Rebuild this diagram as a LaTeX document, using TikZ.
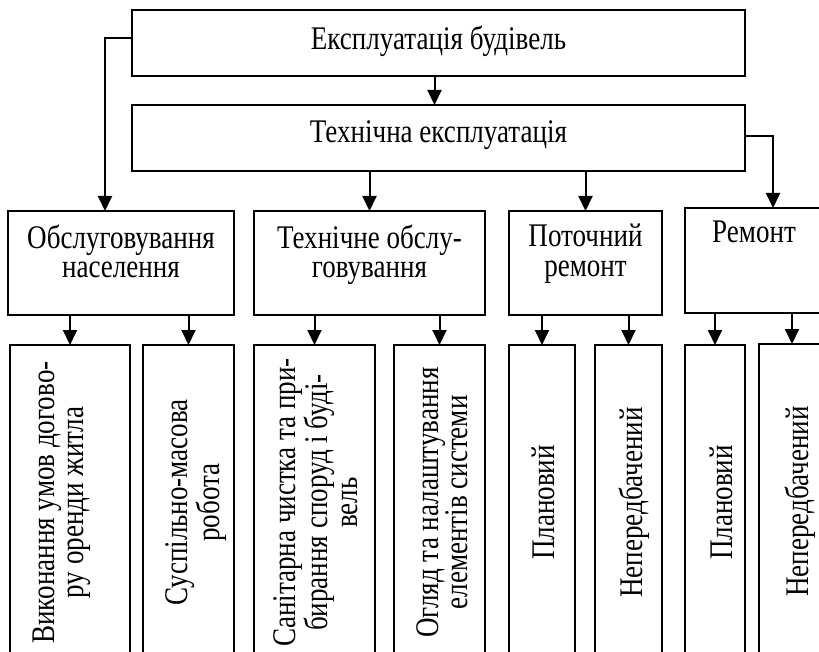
\documentclass[tikz,border=0pt]{standalone}
\usepackage{fontspec}
\setmainfont[FakeStretch=0.82]{Liberation Serif}
\usepackage{tikz}
\usetikzlibrary{calc,arrows.meta}
\tikzset{
  box/.style={draw=black, line width=1pt, inner sep=0pt, outer sep=0pt, anchor=north west},
  sz/.style 2 args={minimum width=#1*0.5pt, minimum height=#2*0.5pt},
  conn/.style={draw=black, line width=1pt, -{Triangle[length=7.5pt,width=7pt]}},
  txt/.style={inner sep=0pt, anchor=north, align=center, font=\fontsize{16.5}{14.6}\selectfont},
  vtxt/.style={txt, rotate=90},
}
\begin{document}
\begin{tikzpicture}[x=0.5pt, y=-0.5pt]
  \useasboundingbox (0,0) rectangle (819,652);
  % top levels
  \node[box, sz={613}{66}] (expl) at (132,10) {};
  \node[box, sz={613}{66}] (tech) at (132,105) {};
  \node[txt] (expl-t) at ($(expl.north)+(0,15)$) {Експлуатація будівель};
  \node[txt] (tech-t) at ($(tech.north)+(0,15)$) {Технічна експлуатація};
  % second level
  \node[box, sz={226}{104}] (obsl) at (8,211) {};
  \node[box, sz={231}{104}] (tobsl) at (254,211) {};
  \node[box, sz={153}{104}] (potoch) at (509,211) {};
  \node[box, sz={138}{105}] (remont) at (685,208) {};
  \node[txt] (obsl-t) at ($(obsl.north)+(0,13)$) {Обслуговування\\населення};
  \node[txt] (tobsl-t) at ($(tobsl.north)+(0,13)$) {Технічне обслу-\\говування};
  \node[txt] (potoch-t) at ($(potoch.north)+(0,13)$) {Поточний\\ремонт};
  \node[txt] (remont-t) at ($(remont.north)+(0,12)$) {Ремонт};
  % third level
  \node[box, sz={120}{315}] (v1) at (10,345) {};
  \node[box, sz={91}{315}] (v2) at (143,345) {};
  \node[box, sz={121}{315}] (v3) at (254,345) {};
  \node[box, sz={91}{315}] (v4) at (394,345) {};
  \node[box, sz={66}{315}] (v5) at (509,345) {};
  \node[box, sz={67}{315}] (v6) at (595,345) {};
  \node[box, sz={60}{315}] (v7) at (685,345) {};
  \node[box, sz={66}{315}] (v8) at (759,344) {};
  \node[vtxt] (v1-t) at ($(v1.west)+(22,0)$) {Виконання умов догово-\\ру оренди житла};
  \node[vtxt] (v2-t) at ($(v2.west)+(22,0)$) {Суспільно-масова\\робота};
  \node[vtxt] (v3-t) at ($(v3.west)+(19,0)$) {Санітарна чистка та при-\\бирання споруд і буді-\\вель};
  \node[vtxt] (v4-t) at ($(v4.west)+(22,0)$) {Огляд та налаштування\\елементів системи};
  \node[vtxt] (v5-t) at ($(v5.west)+(23,0)$) {Плановий};
  \node[vtxt] (v6-t) at ($(v6.west)+(23,0)$) {Непередбачений};
  \node[vtxt] (v7-t) at ($(v7.west)+(24,0)$) {Плановий};
  \node[vtxt] (v8-t) at ($(v8.west)+(25,0)$) {Непередбачений};
  % connectors
  \draw[conn] ($(expl.south)+(-4,0)$) -- ($(tech.north)+(-4,0)$);
  \draw[conn] ($(expl.west)+(0,-5)$) -| ($(obsl.north west)+(97,0)$);
  \draw[conn] ($(tech.east)+(0,-2)$) -| ($(remont.north west)+(88,0)$);
  \draw[conn] (tech.south -| tobsl.north) -- (tobsl.north);
  \draw[conn] (tech.south -| potoch.north) -- (potoch.north);
  \foreach \p/\a/\b in {obsl/v1/v2, tobsl/v3/v4, potoch/v5/v6, remont/v7/v8}{
    \draw[conn] (\p.south -| \a.north) -- (\a.north);
    \draw[conn] (\p.south -| \b.north) -- (\b.north);
  }
\end{tikzpicture}
\end{document}
